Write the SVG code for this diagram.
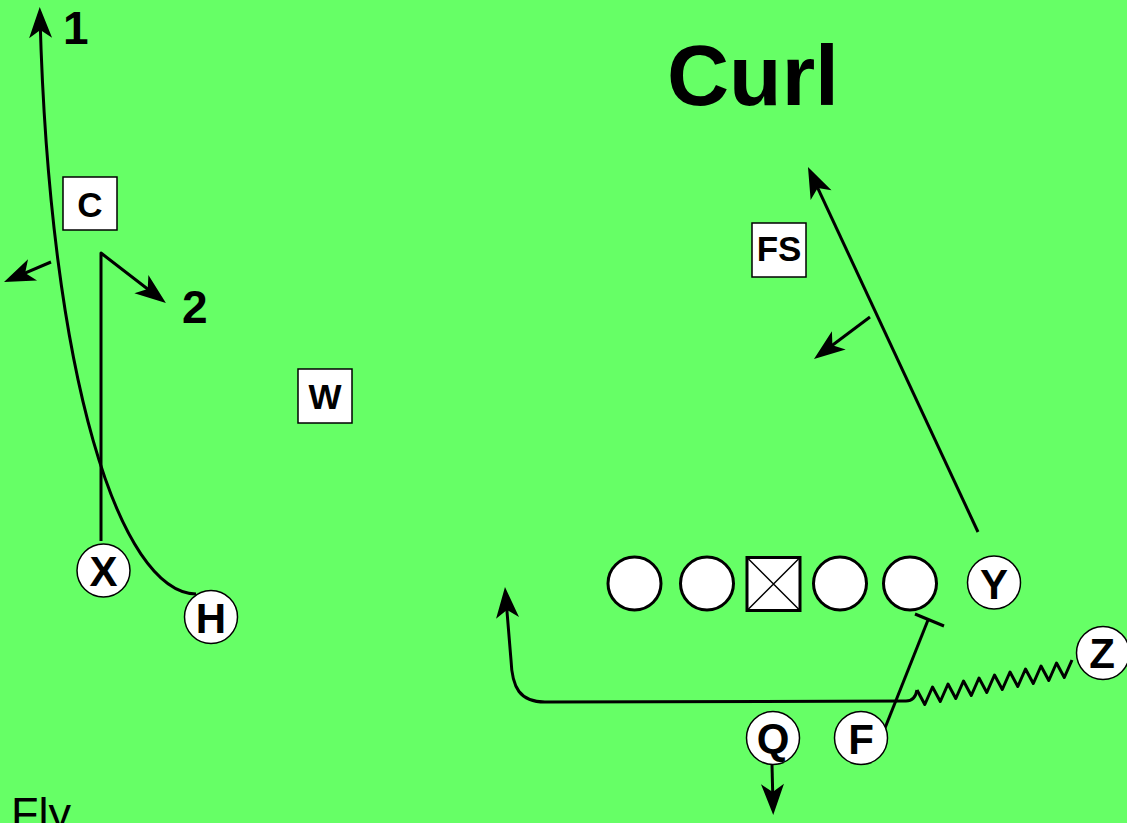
<svg xmlns="http://www.w3.org/2000/svg" width="1127" height="823" viewBox="0 0 1127 823">
<style>
.route{fill:none;stroke:#000;stroke-width:3;stroke-linejoin:round}
.lin{fill:#fff;stroke:#000;stroke-width:3}
.ply{fill:#fff;stroke:#000;stroke-width:1.5}
.box{fill:#fff;stroke:#000;stroke-width:1.5}
.pl{font-family:"Liberation Sans",Arial,sans-serif;font-weight:bold;font-size:42px;text-anchor:middle;fill:#000}
.bl{font-family:"Liberation Sans",Arial,sans-serif;font-weight:bold;font-size:35px;text-anchor:middle;fill:#000}
.num{font-family:"Liberation Sans",Arial,sans-serif;font-weight:bold;font-size:46px;fill:#000}
</style>
<defs>
<marker id="ah" markerUnits="userSpaceOnUse" viewBox="-32 -12 34 24" markerWidth="34" markerHeight="24" refX="-10" refY="0" orient="auto">
<path d="M0,0 L-31,-11.5 L-23,0 L-31,11.5 Z" fill="#000"/>
</marker>
</defs>
<rect x="0" y="0" width="1127" height="823" fill="#66FF66"/>

<text x="667" y="105" font-family="'Liberation Sans',Arial,sans-serif" font-weight="bold" font-size="86">Curl</text>
<text x="11" y="829" font-family="'Liberation Sans',Arial,sans-serif" font-size="45">Fly</text>
<text class="num" x="63" y="44">1</text>
<text class="num" x="182" y="323">2</text>

<g id="connectors">
<path class="route" d="M196,594 C120,592 50,380 40,17" marker-end="url(#ah)"/>
<path class="route" d="M51,262 L13.2,278.1" marker-end="url(#ah)"/>
<path class="route" d="M101,541 L101,253 L158,297" marker-end="url(#ah)"/>
<path class="route" d="M978,532 L812.2,176.1" marker-end="url(#ah)"/>
<path class="route" d="M870,317 L822,353" marker-end="url(#ah)"/>
<path class="route" d="M772,765 L773,805" marker-end="url(#ah)"/>
<path class="route" d="M917,690 Q915,701 906,701 L545,702 C520,702 512,688 511,660 L505.8,597" marker-end="url(#ah)"/>
<path class="route" d="M917,690 L924.8,704.5 L932.5,687 L940.3,701.5 L948,684 L955.8,698.5 L963.5,681 L971.3,695.5 L979,678 L986.8,692.5 L994.5,675 L1002.3,689.5 L1010,672 L1017.8,686.5 L1025.5,669 L1033.3,683.5 L1041,666 L1048.8,680.5 L1056.5,663 L1064.3,677.5 L1072,660"/>
<path class="route" d="M885,728 L928,620"/>
<path class="route" d="M915,614 L944,626"/>
</g>

<g id="C"><rect class="box" x="63" y="177" width="54" height="53"/><text class="bl" x="90" y="217">C</text></g>
<g id="W"><rect class="box" x="298" y="369" width="54" height="54"/><text class="bl" x="325" y="409">W</text></g>
<g id="FS"><rect class="box" x="752" y="223" width="54" height="54"/><text class="bl" x="779" y="261">FS</text></g>

<g id="LT"><circle class="lin" cx="634.5" cy="583.5" r="26.5"/></g>
<g id="LG"><circle class="lin" cx="707" cy="583.5" r="26.5"/></g>
<g id="Center"><rect class="lin" x="747" y="557.5" width="53" height="53"/><path d="M747,557.5 L800,610.5 M800,557.5 L747,610.5" stroke="#000" stroke-width="1.5"/></g>
<g id="RG"><circle class="lin" cx="840" cy="583.5" r="26.5"/></g>
<g id="RT"><circle class="lin" cx="910" cy="583.5" r="26.5"/></g>

<g id="Y"><circle class="ply" cx="994" cy="582.5" r="26.5"/><text class="pl" x="994" y="599">Y</text></g>
<g id="Z"><circle class="ply" cx="1103" cy="653" r="26.5"/><text class="pl" x="1102" y="668">Z</text></g>
<g id="X"><circle class="ply" cx="103.5" cy="570.5" r="26.5"/><text class="pl" x="103.5" y="586">X</text></g>
<g id="H"><circle class="ply" cx="211" cy="617" r="26.5"/><text class="pl" x="211" y="633">H</text></g>
<g id="Q"><circle class="ply" cx="773" cy="738" r="26.5"/><text class="pl" x="773" y="753">Q</text></g>
<g id="F"><circle class="ply" cx="861" cy="738" r="26.5"/><text class="pl" x="861" y="754">F</text></g>
</svg>
